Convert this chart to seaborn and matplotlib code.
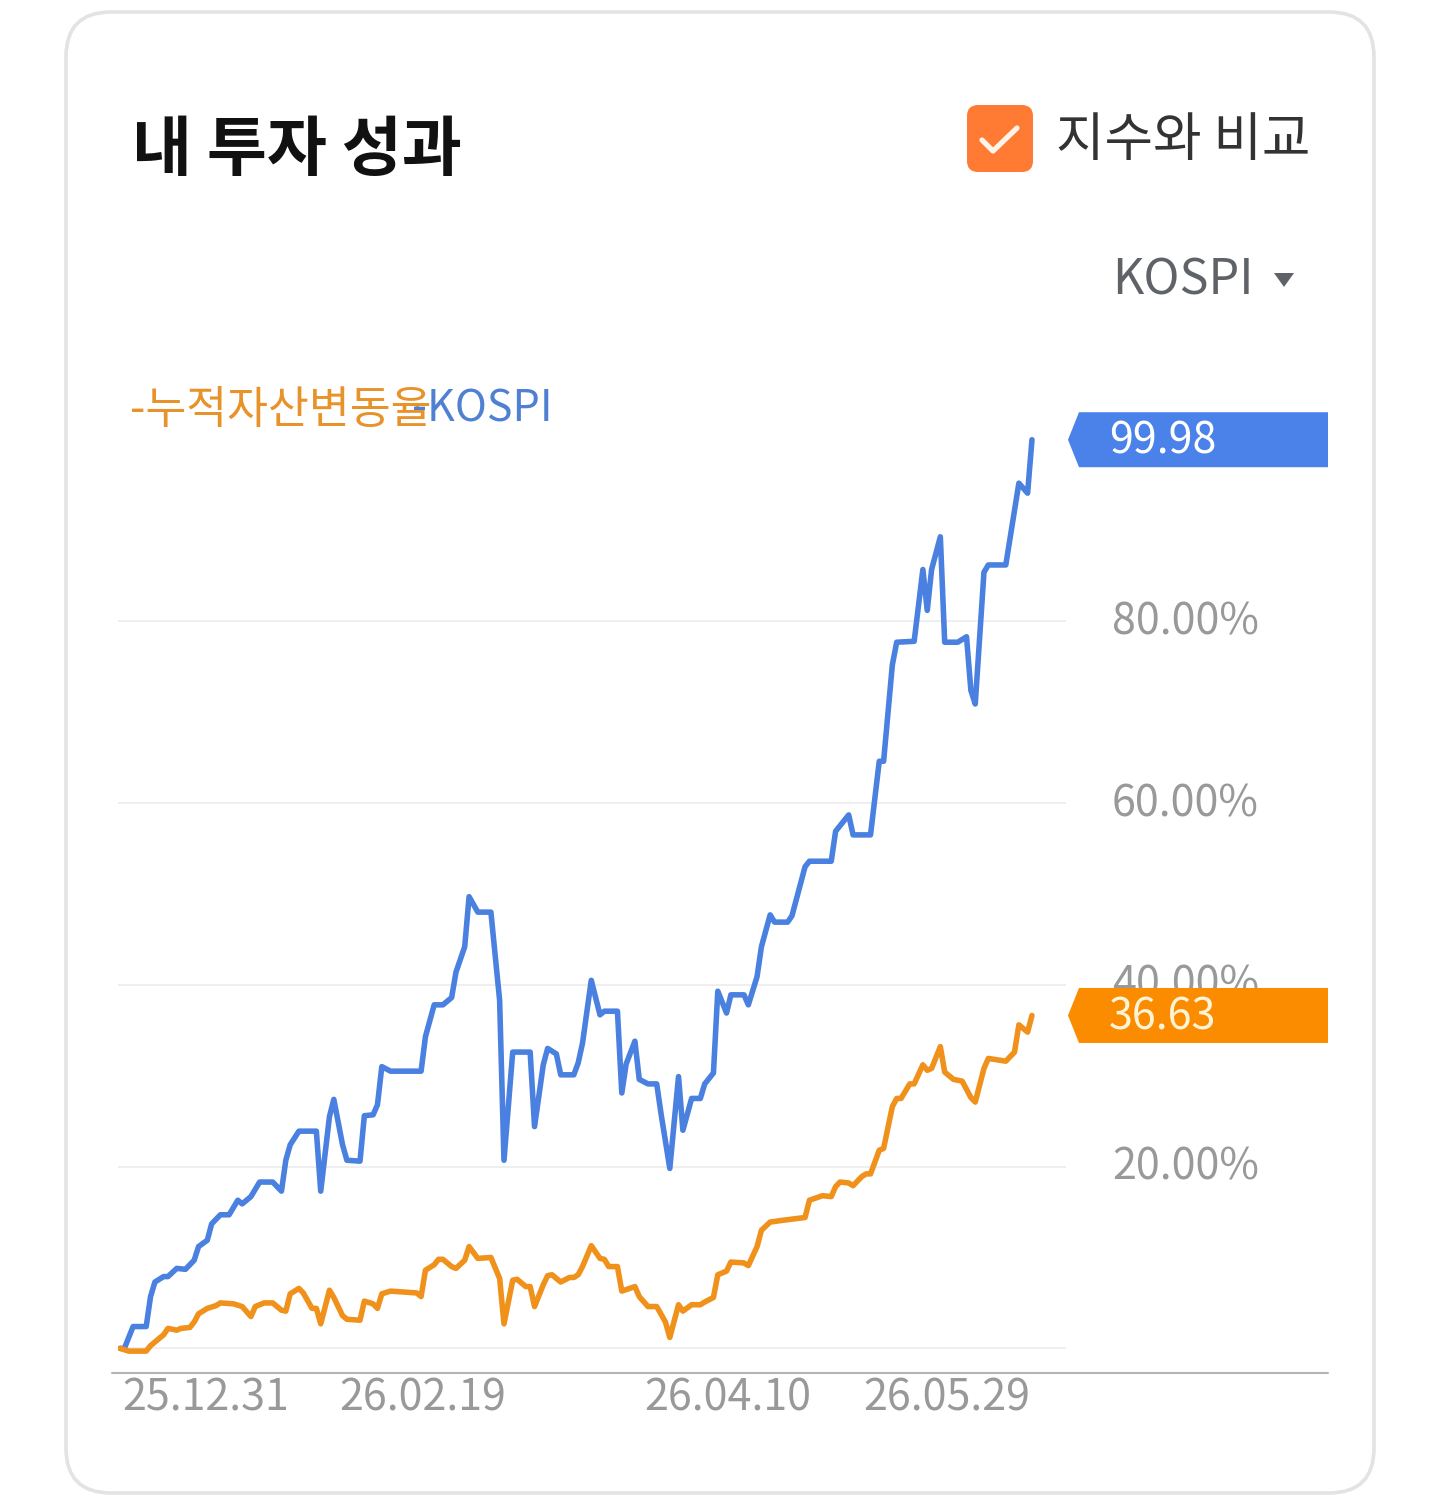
import matplotlib
matplotlib.use('Agg')
import matplotlib.pyplot as plt
from matplotlib.patches import FancyBboxPatch, Polygon
from matplotlib.transforms import ScaledTranslation
import pandas as pd
import seaborn as sns

# -- Data -- #

# x = chart slot index (0 .. 209), y = change in percent
KOSPI_X = [0, 1, 3, 6, 7, 8, 10, 11, 13, 15, 17, 18, 20, 21, 23, 25, 27, 28, 30, 32,
           35, 37, 38, 39, 41, 45, 46, 48, 49, 51, 52, 55, 56, 58, 59, 60, 62, 69, 70, 72,
           74, 76, 77, 79, 80, 82, 85, 87, 88, 90, 94, 95, 97, 98, 100, 101, 104, 105, 106, 108,
           110, 111, 114, 115, 116, 118, 119, 121, 123, 124, 126, 128, 129, 131, 133, 134, 136, 137, 139, 140,
           143, 144, 146, 147, 149, 150, 153, 154, 157, 158, 163, 164, 165, 167, 168, 172, 174, 175, 177, 178,
           182, 184, 185, 186, 188, 189, 192, 194, 195, 196, 198, 199, 203, 206, 208, 209]
KOSPI_Y = [0.0, 0.0, 2.4, 2.4, 5.7, 7.3, 7.9, 7.9, 8.8, 8.7, 9.7, 11.2, 11.9, 13.7, 14.7, 14.7, 16.3, 15.9, 16.7, 18.3,
           18.3, 17.3, 20.7, 22.4, 23.9, 23.9, 17.3, 25.5, 27.4, 22.4, 20.7, 20.6, 25.6, 25.7, 26.8, 31.0, 30.5, 30.5, 34.3, 37.8,
           37.8, 38.6, 41.4, 44.2, 49.7, 48.0, 48.0, 38.3, 20.7, 32.6, 32.6, 24.4, 31.2, 33.0, 32.4, 30.1, 30.1, 31.4, 33.6, 40.5,
           36.7, 37.1, 37.1, 28.1, 31.3, 33.8, 29.6, 29.1, 29.1, 25.8, 19.8, 29.9, 24.0, 27.5, 27.5, 29.1, 30.3, 39.3, 36.9, 38.9,
           38.9, 37.8, 40.9, 44.2, 47.7, 46.9, 46.9, 47.6, 53.0, 53.6, 53.6, 56.9, 57.5, 58.7, 56.5, 56.5, 64.6, 64.6, 75.2, 77.7,
           77.8, 85.7, 81.2, 85.7, 89.3, 77.7, 77.7, 78.3, 72.4, 70.9, 85.4, 86.2, 86.2, 95.2, 94.1, 99.98]

ASSET_X = [0, 2, 6, 7, 10, 11, 13, 14, 16, 17, 18, 20, 22, 23, 26, 28, 30, 31, 33, 35,
           37, 38, 39, 41, 42, 44, 45, 46, 48, 49, 51, 52, 55, 56, 58, 59, 60, 62, 68, 69,
           70, 72, 73, 74, 76, 77, 79, 80, 82, 85, 87, 88, 90, 91, 93, 94, 95, 97, 98, 99,
           101, 103, 104, 105, 106, 108, 110, 111, 112, 114, 115, 118, 119, 121, 123, 125, 126, 128, 129, 131,
           133, 134, 136, 137, 139, 140, 143, 144, 146, 147, 149, 152, 157, 158, 161, 163, 164, 165, 167, 168,
           170, 171, 172, 174, 175, 177, 178, 179, 181, 182, 184, 185, 186, 188, 189, 191, 193, 195, 196, 198,
           199, 203, 205, 206, 208, 209]
ASSET_Y = [0.0, -0.3, -0.3, 0.3, 1.5, 2.2, 2.0, 2.2, 2.3, 2.9, 3.8, 4.4, 4.7, 5.0, 4.9, 4.6, 3.5, 4.6, 5.0, 5.0,
           4.2, 4.1, 6.0, 6.6, 6.1, 4.4, 4.4, 2.7, 6.4, 5.6, 3.6, 3.2, 3.1, 5.2, 4.9, 4.4, 6.0, 6.3, 6.1, 5.7,
           8.6, 9.2, 9.8, 9.8, 9.0, 8.8, 9.7, 11.2, 9.9, 10.0, 7.7, 2.7, 7.5, 7.6, 6.8, 6.8, 4.6, 7.0, 8.0, 8.1,
           7.3, 7.8, 7.8, 8.1, 9.0, 11.3, 9.9, 9.8, 9.0, 9.0, 6.3, 6.8, 5.7, 4.6, 4.6, 2.9, 1.2, 4.8, 4.1, 4.8,
           4.8, 5.1, 5.6, 8.1, 8.5, 9.5, 9.4, 9.1, 11.2, 13.0, 13.9, 14.1, 14.4, 16.3, 16.8, 16.7, 17.8, 18.3, 18.2, 17.9,
           18.9, 19.2, 19.2, 21.8, 22.0, 26.6, 27.5, 27.5, 29.1, 29.1, 31.2, 30.6, 30.8, 33.2, 30.4, 29.6, 29.4, 27.6, 27.1, 30.8,
           31.9, 31.6, 32.6, 35.6, 34.8, 36.63]

SERIES = ['KOSPI', '누적자산변동율']
X_TICKS = [19.6, 69.4, 139.4, 189.4]
X_LABELS = ['25.12.31', '26.02.19', '26.04.10', '26.05.29']
Y_TICKS = [0, 20, 40, 60, 80]
Y_LABELS = ['', '20.00%', '40.00%', '60.00%', '80.00%']

# -- Style -- #

BLUE_LINE = '#4a80df'
ORANGE_LINE = '#f0911c'
BLUE_TAG = '#4a82ea'
ORANGE_TAG = '#fb8c00'
GRAY_TEXT = '#999999'

W, H = 1440, 1505


def main():
    sns.set_theme(style='white')
    plt.rcParams['font.family'] = ['Noto Sans CJK KR', 'DejaVu Sans']

    df = pd.concat([
        pd.DataFrame({'idx': KOSPI_X, 'value': KOSPI_Y, 'series': SERIES[0]}),
        pd.DataFrame({'idx': ASSET_X, 'value': ASSET_Y, 'series': SERIES[1]}),
    ])

    fig = plt.figure(figsize=(W / 100, H / 100), dpi=100)
    fig.patch.set_facecolor('white')

    # plot area in pixels: x 118..1066, y 430..1372
    ax = fig.add_axes([118 / W, 1 - 1372 / H, (1066 - 118) / W, (1372 - 430) / H])
    ax.patch.set_alpha(0)

    sns.lineplot(
        data=df, x='idx', y='value', hue='series',
        hue_order=SERIES, palette=[BLUE_LINE, ORANGE_LINE],
        estimator=None, linewidth=4.0, legend=False, ax=ax,
    )

    ax.set_xlim(-0.46, 216.8)
    ax.set_ylim(-2.6, 101.05)
    for s in ax.spines.values():
        s.set_visible(False)
    ax.set_xlabel('')
    ax.set_ylabel('')

    ax.set_yticks(Y_TICKS)
    ax.set_yticklabels(Y_LABELS)
    ax.yaxis.tick_right()
    ax.tick_params(axis='y', length=0, pad=33, labelsize=31, labelcolor=GRAY_TEXT)
    ax.grid(axis='y', color='#efefef', linewidth=1.4)
    ax.grid(axis='x', visible=False)
    # nudge the y labels up a little, as in the app
    lift = ScaledTranslation(0, 4 / 100, fig.dpi_scale_trans)
    for lbl in ax.get_yticklabels():
        lbl.set_transform(lbl.get_transform() + lift)

    ax.set_xticks(X_TICKS)
    ax.set_xticklabels(X_LABELS)
    ax.tick_params(axis='x', length=0, pad=3, labelsize=31, labelcolor=GRAY_TEXT)

    # overlay in pixel units for the card, header and value tags
    ov = fig.add_axes([0, 0, 1, 1], zorder=5)
    ov.set_xlim(0, W)
    ov.set_ylim(H, 0)
    ov.axis('off')
    ov.patch.set_alpha(0)

    ov.add_patch(FancyBboxPatch(
        (66, 12), 1308, 1481, boxstyle='round,pad=0,rounding_size=45',
        facecolor='none', edgecolor='#e3e3e3', linewidth=2.6,
    ))

    ov.text(132, 150, '내 투자 성과', fontsize=47, fontweight='bold',
            color='#111111', ha='left', va='center')

    ov.add_patch(FancyBboxPatch(
        (967, 105), 66, 67, boxstyle='round,pad=0,rounding_size=11',
        facecolor='#ff7a33', edgecolor='none',
    ))
    ov.plot([982, 993, 1017], [140, 151, 128], color='#fff4ea',
            linewidth=3.8, solid_capstyle='round', solid_joinstyle='round')
    ov.text(1056, 141, '지수와 비교', fontsize=38, color='#333333',
            ha='left', va='center')

    ov.text(1112, 281, 'KOSPI', fontsize=35, color='#5f6368',
            ha='left', va='center')
    ov.add_patch(Polygon([(1274, 273), (1294, 273), (1284, 287)],
                         closed=True, facecolor='#5f6368', edgecolor='none'))

    ov.text(130, 410, '-' + SERIES[1], fontsize=32, color='#e8922a',
            ha='left', va='center')
    ov.text(412, 410, '-' + SERIES[0], fontsize=31, color='#4f80d2',
            ha='left', va='center')

    # bottom axis line
    ov.plot([112, 1328], [1372.5, 1372.5], color='#b4b4b4', linewidth=1.5)

    # last-value tags, centred on the series' last value
    for xs, ys, col, txt_col in [
        (KOSPI_X, KOSPI_Y, BLUE_TAG, 'white'),
        (ASSET_X, ASSET_Y, ORANGE_TAG, '#fff4d6'),
    ]:
        cy = H - ax.transData.transform((xs[-1], ys[-1]))[1]
        ov.add_patch(Polygon(
            [(1068, cy), (1079, cy - 27.5), (1328, cy - 27.5),
             (1328, cy + 27.5), (1079, cy + 27.5)],
            closed=True, facecolor=col, edgecolor='none',
        ))
        ov.text(1109, cy + 2, f'{ys[-1]:.2f}', fontsize=31, color=txt_col,
                ha='left', va='center')

    fig.savefig('out.png', dpi=100)


if __name__ == '__main__':
    main()
